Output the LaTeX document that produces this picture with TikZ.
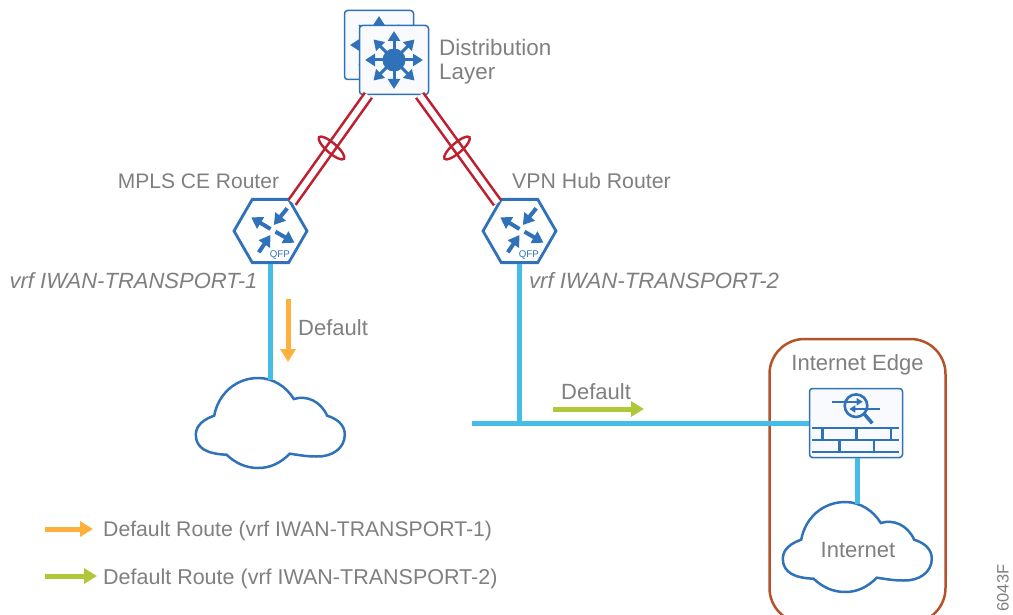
\documentclass[tikz,border=0pt]{standalone}
\usepackage{fontspec}
\setmainfont{Liberation Sans}
\usetikzlibrary{arrows.meta,positioning,shapes.geometric}

\definecolor{iconblue}{HTML}{2F72BA}
\definecolor{boxfill}{HTML}{F8FAFD}
\definecolor{linkred}{HTML}{BE2030}
\definecolor{lancyan}{HTML}{44BDE8}
\definecolor{edgebrown}{HTML}{B4522A}
\definecolor{routeorange}{HTML}{FDB03B}
\definecolor{routegreen}{HTML}{AEC837}
\definecolor{textgrey}{HTML}{7F7F7F}

\tikzset{
  iconarrow/.style={draw=iconblue, line width=4pt, -{Triangle[length=11pt,width=13pt]}},
  switcharrow/.style={draw=iconblue, line width=3pt, -{Triangle[length=10pt,width=12pt]}},
  pics/layerswitch/.style={code={
    \fill[iconblue] (0,0) circle (11.5);
    \foreach \a in {0,45,...,315}
      \draw[switcharrow] (0,0) -- ({29*cos(\a)},{29*sin(\a)});
  }},
  pics/qfprouter/.style={code={
    \draw[iconarrow] (16.7,-22.7) -- (3.3,-6);
    \draw[iconarrow] (0,-2) -- (-19.3,-13.7);
    \draw[iconarrow] (-11.7,21.3) -- (0,4);
    \draw[iconarrow] (5,.7) -- (24,11.7);
    \node[text=iconblue, font=\fontsize{9.7}{10}\selectfont, inner sep=0pt] (-qfp) at (9.3,24) {QFP};
  }},
  pics/firewall/.style={code={
    % magnifier
    \draw[iconblue, line width=2.6pt] (0,-17.3) circle (11.3);
    \draw[iconblue, line width=3.5pt] (8,-9.3) -- (16.3,.3);
    \draw[iconarrow, line width=2.2pt, -{Triangle[length=6pt,width=7pt]}] (-24.3,-21.3) -- (6.7,-21.3);
    \draw[iconarrow, line width=2.2pt, -{Triangle[length=6pt,width=7pt]}] (24,-14) -- (-6.7,-14);
    % bricks
    \foreach \y in {5,16.7,28.7}
      \draw[iconblue, line width=2.4pt] (-43.7,\y) -- (43.3,\y);
    \foreach \x in {-33.7,.3,34.7}
      \draw[iconblue, line width=2.4pt] (\x,5) -- (\x,16.7);
    \foreach \x in {-16.7,17.7}
      \draw[iconblue, line width=2.4pt] (\x,16.7) -- (\x,28.7);
  }},
  pics/netcloud/.style={code={
    \draw[iconblue, line width=2.5pt, fill=white] (-56.3,-7.3) .. controls (-52,-30) and (-34,-45) .. (-12.3,-45)
      .. controls (3,-45) and (16,-36) .. (23.3,-24) .. controls (36,-28) and (50,-22) .. (56.7,-7.3)
      .. controls (67,-4) and (74.3,2) .. (74.3,11.7) .. controls (74.3,25) and (62,34) .. (46,33.5)
      .. controls (36,33.5) and (28,32) .. (19.3,30.7) .. controls (10,40) and (0,45) .. (-12.3,45)
      .. controls (-25,45) and (-35,40) .. (-44,31.7) .. controls (-62,31) and (-74.7,26) .. (-74.7,11.7)
      .. controls (-74.7,2) and (-66,-4) .. (-56.3,-7.3) -- cycle;
    \coordinate (-top) at (0,-43.5);
  }}
}

\begin{document}
\begin{tikzpicture}[x = 1pt, y = -1pt, style={font=\fontsize{22}{24}\selectfont},
  lbl/.style={text=textgrey, inner sep=0pt},
  iconbox/.style={draw=iconblue, fill=boxfill, line width=1.5pt, rounded corners=3pt, inner sep=0pt, minimum width=69pt, minimum height=69pt},
  routerhex/.style={draw=iconblue, fill=white, line width=2.8pt, regular polygon, regular polygon sides=6, inner sep=0pt, minimum size=73pt},
  redlink/.style={draw=linkred, double=white, double distance=6pt, line width=2.6pt},
  bundle/.style={draw=linkred, ellipse, line width=2.4pt, inner sep=0pt, minimum width=33pt, minimum height=10pt},
  lanlink/.style={draw=lancyan, line width=5pt},
  orangeroute/.style={draw=routeorange, line width=5pt, -{Triangle[length=13pt,width=15pt]}},
  greenroute/.style={draw=routegreen, line width=5pt, -{Triangle[length=13pt,width=15pt]}}]
\useasboundingbox (0,0) rectangle (1013,615);

% Internet edge block
\node[draw=edgebrown, line width=2.5pt, rounded corners=35pt, inner sep=0pt, minimum width=176pt, minimum height=284pt] (edgeblock) at (857.5,481) {};
\node[lbl] (edgelabel) at (857.5,365) {Internet Edge};

% Distribution layer
\node[iconbox] (distback) at (379,45) {};
\pic at (distback) {layerswitch};
\node[iconbox] (distfront) at (394,60) {};
\pic at (distfront) {layerswitch};
\node[lbl, anchor=west, align=left, font=\fontsize{22.4}{24}\selectfont] (distlabel) at (439,62) {Distribution\\Layer};

% Routers
\node[routerhex] (mplsrouter) at (270.5,231) {};
\pic at (mplsrouter) {qfprouter};
\node[routerhex] (vpnrouter) at (519.5,231) {};
\pic at (vpnrouter) {qfprouter};
\node[lbl, font=\fontsize{21}{24}\selectfont] (mplslabel) at (198.5,181) {MPLS CE Router};
\node[lbl, font=\fontsize{21.3}{24}\selectfont] (vpnlabel) at (591.5,181) {VPN Hub Router};
\node[lbl, font=\fontsize{22}{24}\selectfont\itshape] (vrfonelabel) at (133.5,281) {vrf IWAN-TRANSPORT-1};
\node[lbl, font=\fontsize{22.2}{24}\selectfont\itshape] (vrftwolabel) at (654,281) {vrf IWAN-TRANSPORT-2};

% Port channels
\draw[redlink] (distfront.-126) -- (mplsrouter.53);
\draw[redlink] (distfront.-54) -- (vpnrouter.128);
\node[bundle, rotate=-41] (mplsbundle) at (331.5,148) {};
\node[bundle, rotate=41] (vpnbundle) at (457,148) {};

% Firewall and clouds
\node[iconbox, minimum width=93pt] (firewallbox) at (856,423) {};
\pic at (firewallbox) {firewall};
\pic (wancloud) at (270.5,423) {netcloud};
\pic (netcloud) at (857.5,547) {netcloud};
\node[lbl] (internetlabel) at (858,550) {Internet};

% LAN links
\coordinate (busend) at (472,423);
\draw[lanlink] (mplsrouter.-90) -- (wancloud-top);
\draw[lanlink] (busend) -- (firewallbox.west);
\draw[lanlink] (vpnrouter.-90) -- (vpnrouter.-90 |- firewallbox.west);
\draw[lanlink] (firewallbox.south -| netcloud-top) -- (netcloud-top);

% Default routes
\coordinate (orangestart) at (288,299);
\coordinate (orangeend) at (288,362);
\coordinate (greenstart) at (553,409);
\coordinate (greenend) at (644,409);
\draw[orangeroute] (orangestart) -- (orangeend);
\draw[greenroute] (greenstart) -- (greenend);
\node[lbl, anchor=west] (orangelabel) at (298,328) {Default};
\node[lbl, anchor=west] (greenlabel) at (561,392) {Default};

% Legend
\coordinate (keyonestart) at (45,529);
\coordinate (keyoneend) at (93,529);
\coordinate (keytwostart) at (45,576);
\coordinate (keytwoend) at (97,576);
\draw[orangeroute] (keyonestart) -- (keyoneend);
\draw[greenroute] (keytwostart) -- (keytwoend);
\node[lbl, anchor=west, font=\fontsize{21.2}{24}\selectfont] (keyonelabel) at (103,531) {Default Route (vrf IWAN-TRANSPORT-1)};
\node[lbl, anchor=west, font=\fontsize{21.5}{24}\selectfont] (keytwolabel) at (103,579) {Default Route (vrf IWAN-TRANSPORT-2)};

% Figure number
\node[lbl, rotate=90, font=\fontsize{16.5}{18}\selectfont] (figurenumber) at (1003,588) {6043F};
\end{tikzpicture}
\end{document}
